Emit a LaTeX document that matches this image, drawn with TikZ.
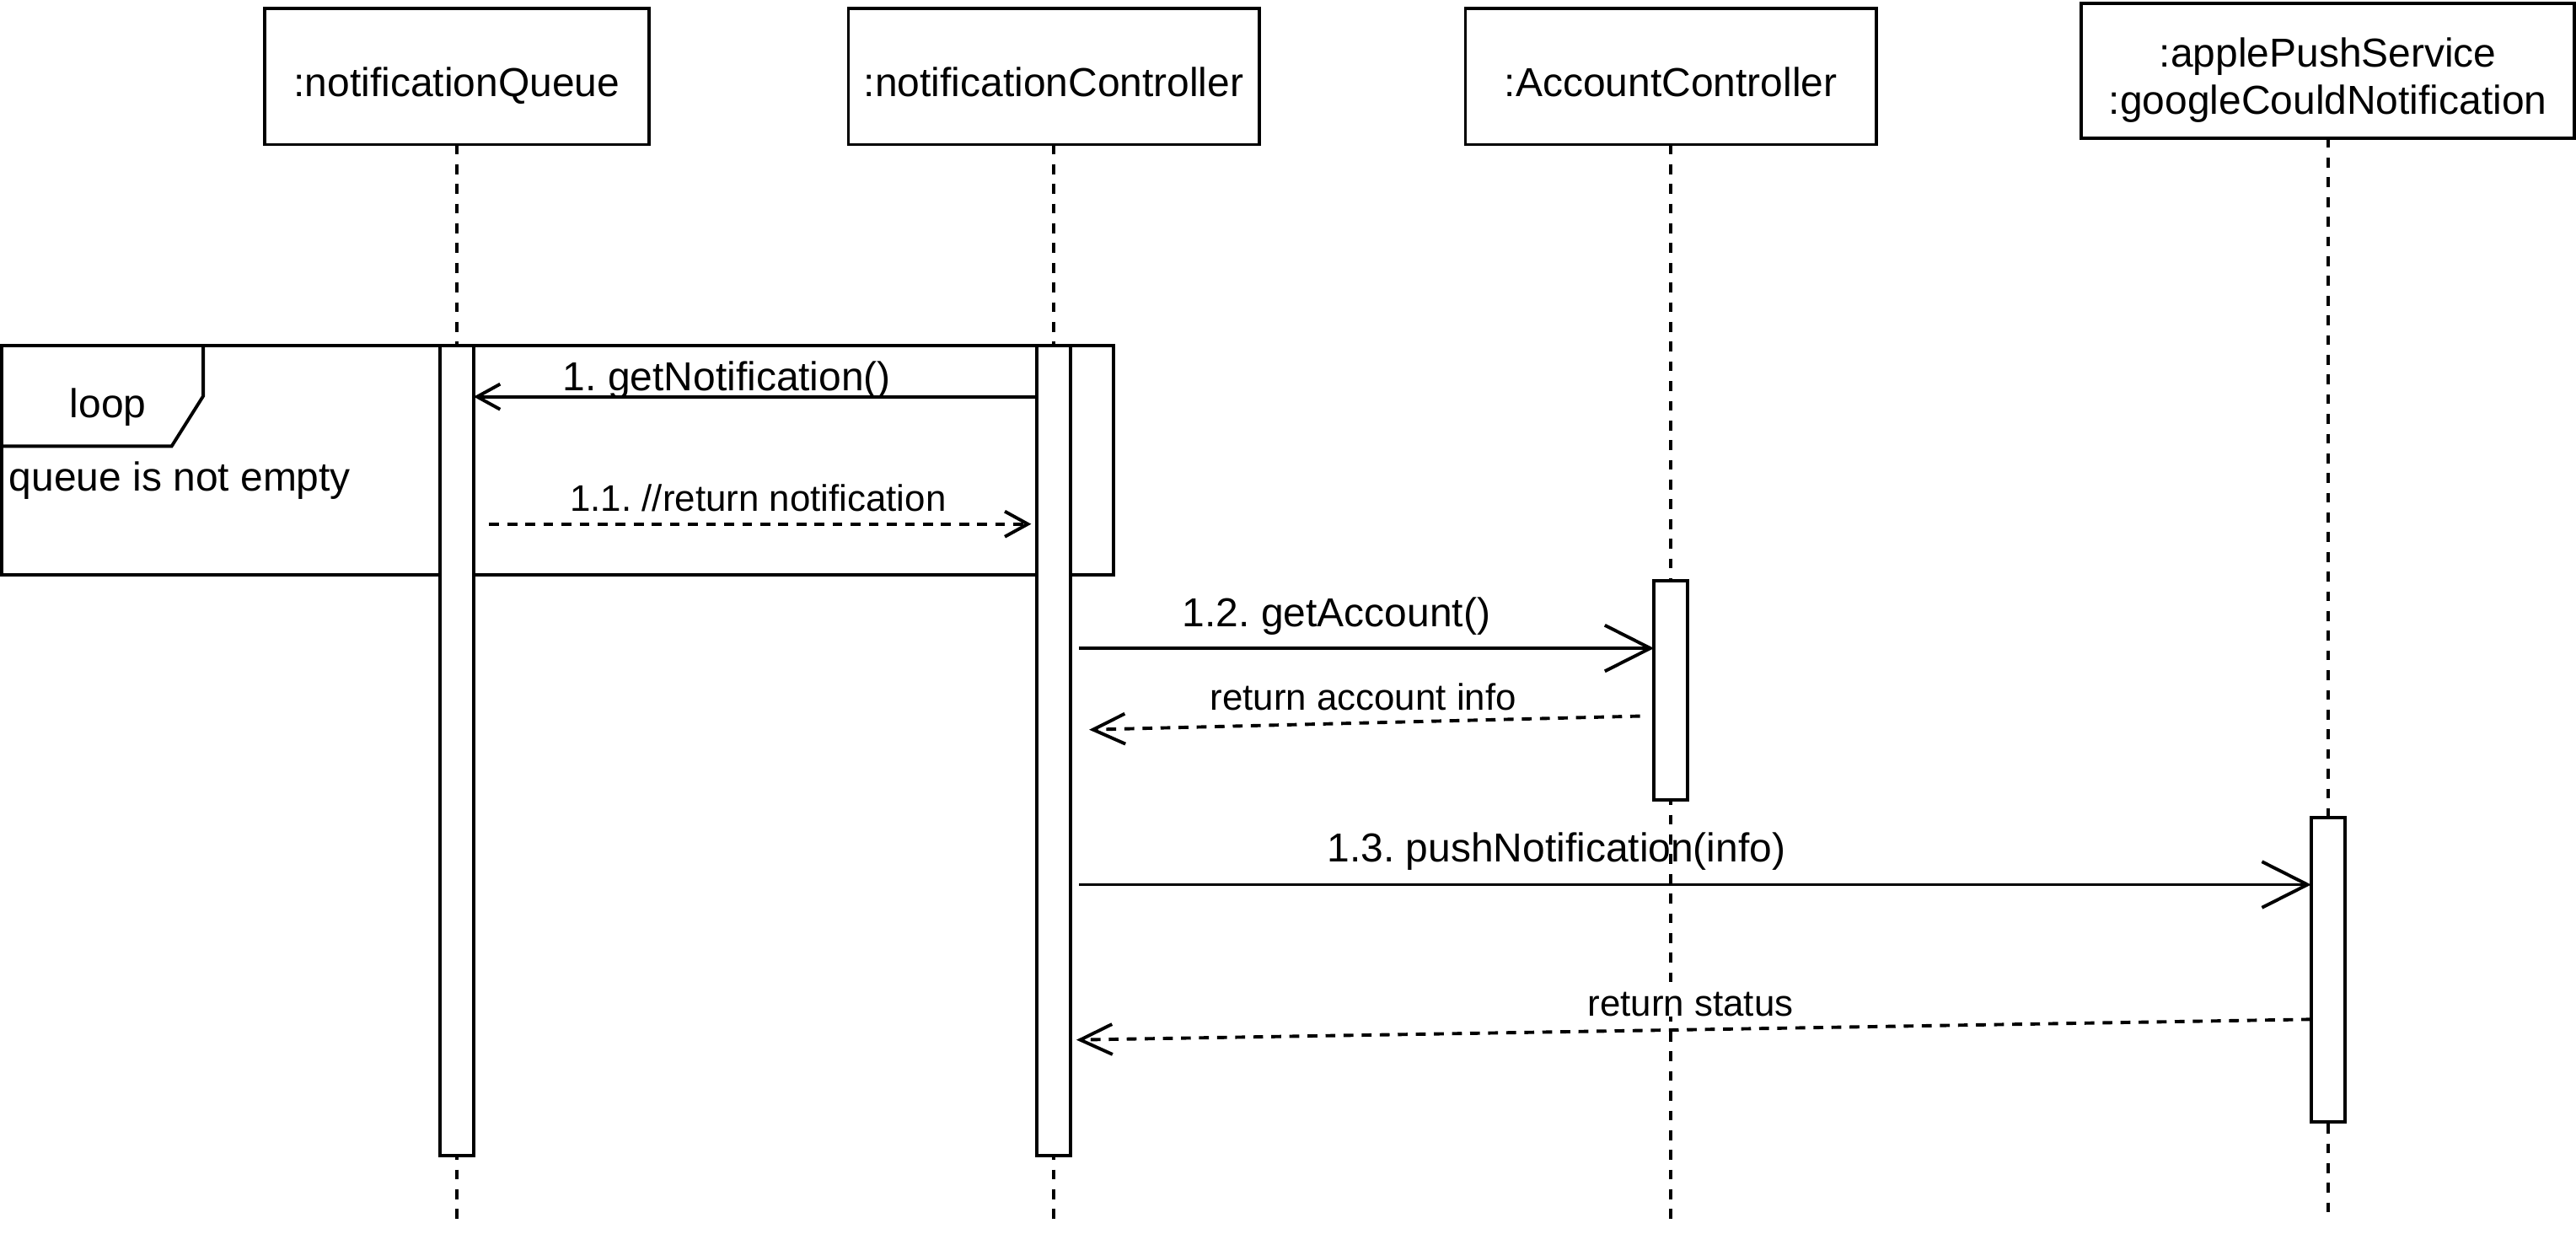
\documentclass[tikz,border=0pt]{standalone}
\usepackage{fontspec}
\setmainfont{Liberation Sans}
\usetikzlibrary{arrows.meta}
\newcommand\fbig{\fontsize{24.6}{29.5}\selectfont}
\newcommand\fsmall{\fontsize{22.5}{27}\selectfont}
\frenchspacing
\begin{document}
\begin{tikzpicture}[x=1pt,y=-1pt,line width=2pt,
  head/.style={draw,fill=white,inner sep=0pt,outer sep=0pt,minimum height=83pt},
  bar/.style={draw,fill=white,inner sep=0pt,outer sep=0pt,minimum width=20.5pt,anchor=north},
  lifeline/.style={dash pattern=on 6pt off 6pt},
  ret/.style={dash pattern=on 6pt off 5pt},
  txt/.style={inner sep=0pt,anchor=base,font=\fbig},
  stxt/.style={inner sep=0pt,anchor=base,font=\fsmall},
  sarrow/.style={-{Straight Barb[length=14pt,width=15.4pt]}},
  marrow/.style={-{Straight Barb[length=19.5pt,width=18.4pt]}},
  barrow/.style={-{Straight Barb[length=27.7pt,width=28pt]}}]
\useasboundingbox (0,0) rectangle (1568,751);

% headers
\node[head,minimum width=234pt] (qh) at (278,46.5) {};
\node[head,minimum width=250pt] (ch) at (641.4,46.5) {};
\node[head,minimum width=250pt] (ah) at (1017,46.5) {};
\node[head,minimum width=300pt,minimum height=82pt] (ph) at (1417,43) {};
\node[txt] (qt) at (278,59) {:notificationQueue};
\node[txt] (ct) at (641.4,59) {:notificationController};
\node[txt] (at) at (1017,59) {:AccountController};
\node[txt] (pt1) at (1417,41) {:applePushService};
\node[txt] (pt2) at (1417,69.3) {:googleCouldNotification};

% lifeline ends
\coordinate (qend) at (278,745.5);
\coordinate (cend) at (641.4,745.5);
\coordinate (aend) at (1017,745.5);
\coordinate (pend) at (1417,742);
\draw[lifeline] (qh.south) -- (qend);
\draw[lifeline] (ch.south) -- (cend);
\draw[lifeline] (ah.south) -- (aend);
\draw[lifeline] (ph.south) -- (pend);

% loop frame
\node[draw,inner sep=0pt,outer sep=0pt,minimum width=676.9pt,minimum height=139.4pt,anchor=north west] (frame) at (1,210.3) {};
\draw (123.7,210.3) -- (123.7,241.1) -- (104.5,271.6) -- (1,271.6);
\node[txt] (looplbl) at (65.8,254) {loop};
\node[txt,anchor=base west] (guard) at (4.6,299) {queue is not empty};

% activation bars
\node[bar,minimum height=493.2pt] (qbar) at (278.1,210.3) {};
\node[bar,minimum height=493.2pt] (cbar) at (641.4,210.3) {};
\node[bar,minimum height=133.4pt] (abar) at (1017,353.6) {};
\node[bar,minimum height=185pt] (pbar) at (1417,497.7) {};

% message end points
\coordinate (m1s) at (cbar.west |- 0,241.5);
\coordinate (m1e) at (qbar.east |- 0,241.5);
\coordinate (m11s) at (297.8,319);
\coordinate (m11e) at (627.7,319);
\coordinate (m12s) at (657,394.6);
\coordinate (m12e) at (abar.west |- 0,394.6);
\coordinate (r1s) at (998.3,435.9);
\coordinate (r1e) at (663,444.2);
\coordinate (m13s) at (657,538.5);
\coordinate (m13e) at (pbar.west |- 0,538.5);
\coordinate (r2s) at (pbar.west |- 0,620.5);
\coordinate (r2e) at (655.2,633);

\draw[sarrow] (m1s) -- (m1e);
\draw[sarrow,ret] (m11s) -- (m11e);
\draw[barrow] (m12s) -- (m12e);
\draw[marrow,ret] (r1s) -- (r1e);
\draw[barrow] (m13s) -- (m13e);
\draw[marrow,ret] (r2s) -- (r2e);

% labels
\node[txt] (l1) at (442.5,237.7) {1. getNotification()};
\node[stxt] (l11) at (461.5,311.3) {1.1. //return notification};
\node[txt] (l12) at (813.5,381.5) {1.2. getAccount()};
\node[stxt,fill=white,inner xsep=2pt] (lr1) at (829.8,432.3) {return account info};
\node[txt] (l13) at (947.4,524.8) {1.3. pushNotification(info)};
\node[stxt,fill=white,inner xsep=2pt] (lr2) at (1029,618.6) {return status};
\end{tikzpicture}
\end{document}
